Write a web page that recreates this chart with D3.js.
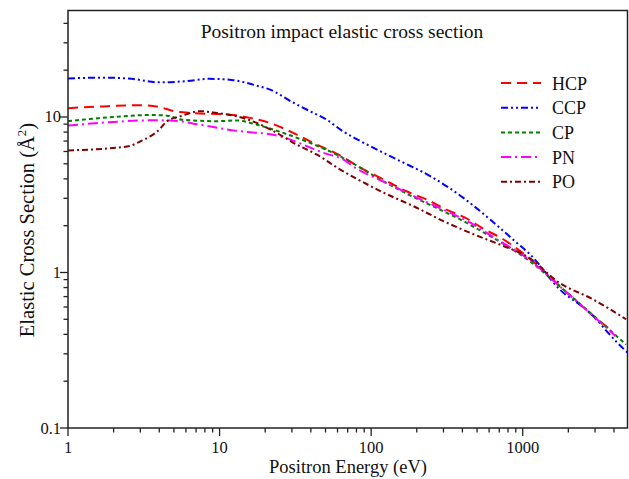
<!DOCTYPE html>
<html>
<head>
<meta charset="utf-8">
<script src="https://cdn.jsdelivr.net/npm/d3@7"></script>
<style>
  body { margin: 0; background: #fff; }
  text { font-family: "Liberation Serif", "Times New Roman", serif; fill: #111; }
</style>
</head>
<body>
<script>
// values, [energy eV, cross section Å^2]
const hcp = [[1,11.4],[1.7,11.7],[3.1,11.9],[4.0,11.6],[5,10.9],[6.7,10.6],[11.7,10.35],[15.9,9.87],[21.5,9.16],[32.3,7.7],[43.7,6.64],[59,5.82],[89,4.6],[127,3.87],[171,3.33],[232,2.95],[306,2.57],[417,2.25],[552,1.91],[747,1.63],[1066,1.27],[1856,0.78],[2765,0.55],[3900,0.42]];
const ccp = [[1,17.7],[1.7,17.9],[2.5,17.7],[4,16.7],[6,17.0],[8.6,17.6],[12,17.3],[18,15.8],[21.5,15.0],[30.5,12.4],[39.4,10.9],[51,9.6],[65,8.1],[85,7.0],[148,5.33],[245,4.17],[406,3.02],[610,2.19],[916,1.55],[1116,1.31],[1750,0.78],[2765,0.553],[4190,0.355],[4900,0.306]];
const cp = [[1,9.4],[2,10.0],[3.5,10.3],[4.5,10.2],[5.7,9.6],[9.6,9.4],[13,9.5],[17.5,8.94],[26.3,7.9],[39.4,6.82],[59,5.74],[72.6,5.15],[115,3.96],[171,3.22],[270,2.6],[406,2.14],[580,1.76],[825,1.44],[1116,1.18],[1856,0.777],[4810,0.344]];
const pn = [[1,8.8],[2,9.3],[3.5,9.52],[4.7,9.5],[7.4,8.94],[12.3,8.2],[15.9,7.97],[20.5,7.8],[26.3,7.42],[35.7,6.64],[48.4,5.88],[65.4,5.33],[80.5,4.64],[103,4.12],[148,3.5],[212,2.95],[315,2.48],[451,2.09],[677,1.63],[1066,1.24],[1856,0.777],[4100,0.39]];
const po = [[1,6.1],[2.45,6.45],[3,6.97],[4.05,8.4],[4.5,9.4],[5.7,10.2],[7.4,10.9],[9.6,10.6],[13,10.1],[17.6,9.16],[23.8,7.9],[32.3,6.64],[43.7,5.74],[62.6,4.59],[80.5,4.0],[121,3.26],[190,2.67],[300,2.14],[475,1.76],[747,1.48],[1066,1.27],[1747,0.858],[2925,0.67],[4810,0.5]];

const seriesNames = ["HCP", "CCP", "CP", "PN", "PO"];
const xTicks = [1, 10, 100, 1000];
const yTicks = [0.1, 1, 10];

const width = 629, height = 479;
const margin = { top: 10.5, right: 1, bottom: 51, left: 68 };

const svg = d3.select("body").append("svg")
  .attr("width", width).attr("height", height);

const x = d3.scaleLog().domain([1, 4950]).range([margin.left, width - margin.right]);
const y = d3.scaleLog().domain([0.1, 48.4]).range([height - margin.bottom, margin.top]);

const styles = [
  { data: hcp, color: "#ff0000", dash: "10,6" },
  { data: ccp, color: "#0000ff", dash: "7,3,2,3,2,3" },
  { data: cp, color: "#008000", dash: "4,3" },
  { data: pn, color: "#ff00ff", dash: "10,4,2,4" },
  { data: po, color: "#800000", dash: "6,3,2,3" },
];

// minor ticks
const xMinor = [];
for (let d = 1; d <= 1000; d *= 10)
  for (let k = 2; k <= 9; k++) if (d * k <= 4950) xMinor.push(d * k);
const yMinor = [];
for (let d = 0.1; d <= 10; d *= 10)
  for (let k = 2; k <= 9; k++) if (d * k <= 48.4) yMinor.push(d * k);

const x0 = margin.left, x1 = width - margin.right;
const y0 = height - margin.bottom, y1 = margin.top;

// curves
const line = d3.line()
  .x((d) => x(d[0]))
  .y((d) => y(d[1]))
  .curve(d3.curveMonotoneX);

svg.append("g").selectAll("path")
  .data(styles)
  .join("path")
  .attr("d", (d) => line(d.data))
  .attr("fill", "none")
  .attr("stroke", (d) => d.color)
  .attr("stroke-width", 2)
  .attr("stroke-dasharray", (d) => d.dash);

// frame
svg.append("rect")
  .attr("x", x0).attr("y", y1)
  .attr("width", x1 - x0 - 0.5).attr("height", y0 - y1)
  .attr("fill", "none").attr("stroke", "#222").attr("stroke-width", 1.5);

// x ticks
const gx = svg.append("g");
gx.selectAll(".minor").data(xMinor).join("line")
  .attr("x1", (d) => x(d)).attr("x2", (d) => x(d))
  .attr("y1", y0).attr("y2", y0 + 4.5)
  .attr("stroke", "#222").attr("stroke-width", 1.3);
gx.selectAll(".major").data(xTicks).join("line")
  .attr("x1", (d) => x(d)).attr("x2", (d) => x(d))
  .attr("y1", y0).attr("y2", y0 + 8)
  .attr("stroke", "#222").attr("stroke-width", 1.3);
gx.selectAll("text").data(xTicks).join("text")
  .attr("x", (d) => x(d)).attr("y", y0 + 24.5)
  .attr("text-anchor", "middle")
  .attr("font-size", 16.5)
  .text((d) => d);

// y ticks
const gy = svg.append("g");
gy.selectAll(".minor").data(yMinor).join("line")
  .attr("x1", x0 - 4.5).attr("x2", x0)
  .attr("y1", (d) => y(d)).attr("y2", (d) => y(d))
  .attr("stroke", "#222").attr("stroke-width", 1.3);
gy.selectAll(".major").data(yTicks).join("line")
  .attr("x1", x0 - 8).attr("x2", x0)
  .attr("y1", (d) => y(d)).attr("y2", (d) => y(d))
  .attr("stroke", "#222").attr("stroke-width", 1.3);
gy.selectAll("text").data(yTicks).join("text")
  .attr("x", x0 - 7).attr("y", (d) => y(d) + 5.5)
  .attr("text-anchor", "end")
  .attr("font-size", 16.5)
  .text((d) => d);

// axis titles
svg.append("text")
  .attr("x", 348).attr("y", 473)
  .attr("text-anchor", "middle")
  .attr("font-size", 18.5)
  .text("Positron Energy (eV)");

const yl = svg.append("text")
  .attr("transform", "translate(34,230) rotate(-90)")
  .attr("text-anchor", "middle")
  .attr("font-size", 20.5);
yl.append("tspan").text("Elastic Cross Section (Å");
yl.append("tspan").attr("dy", -8).attr("font-size", 13).text("2");
yl.append("tspan").attr("dy", 8).text(")");

// title inside
svg.append("text")
  .attr("x", 342).attr("y", 38)
  .attr("text-anchor", "middle")
  .attr("font-size", 19.5)
  .text("Positron impact elastic cross section");

// legend
const legend = svg.append("g").selectAll("g")
  .data(styles)
  .join("g")
  .attr("transform", (d, i) => `translate(501,${83 + i * 24.7})`);
legend.append("line")
  .attr("x1", 0).attr("x2", 40)
  .attr("stroke", (d) => d.color)
  .attr("stroke-width", 2)
  .attr("stroke-dasharray", (d) => d.dash);
legend.append("text")
  .attr("x", 51).attr("y", 6.5)
  .attr("font-size", 18)
  .text((d, i) => seriesNames[i]);
</script>
</body>
</html>
